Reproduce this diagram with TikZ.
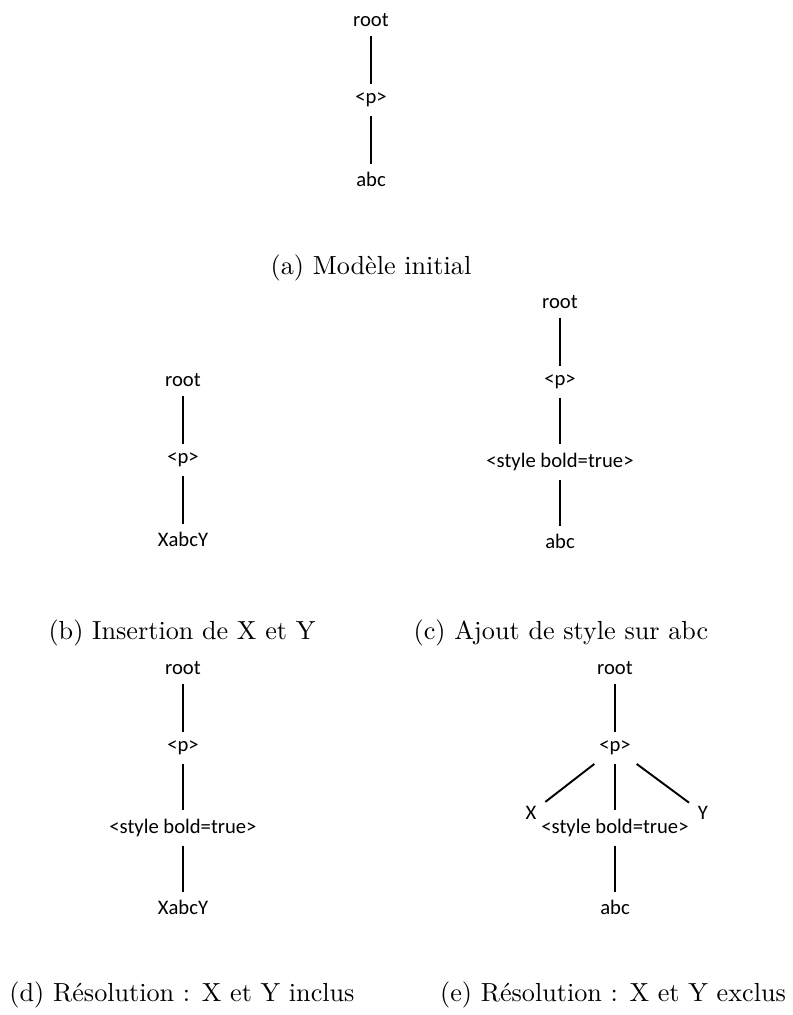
\documentclass[tikz,border=0pt]{standalone}
\usepackage{fontspec}
\newfontfamily\noeudfont{Carlito}
\usepackage{tikz}
\usetikzlibrary{positioning}

\begin{document}
\begin{tikzpicture}[x=0.4167pt,y=-0.4167pt,node distance=33.3pt,thick]
  \tikzstyle{every node}=[font=\noeudfont\fontsize{8.6pt}{10pt}\selectfont]
  \tikzstyle{legende}=[font=\rmfamily\fontsize{10.9pt}{13pt}\selectfont]
  \useasboundingbox (0,0) rectangle (792,1015);

  % (a) modele initial
  \node (aR) at (371,20) {root};
  \node (aP) [below of=aR] {<p>};
  \node (aT) [below of=aP] {abc};
  \path (aR) edge (aP);
  \path (aP) edge (aT);
  \node[legende] (capA) at (371,268) {(a) Modèle initial};

  % (b) insertion
  \node (bR) at (183,380) {root};
  \node (bP) [below of=bR] {<p>};
  \node (bT) [below of=bP] {XabcY};
  \path (bR) edge (bP);
  \path (bP) edge (bT);
  \node[legende] (capB) at (182,633) {(b) Insertion de X et Y};

  % (c) ajout de style
  \node (cR) at (560,302) {root};
  \node (cP) [below of=cR] {<p>};
  \node (cS) [below of=cP] {<style bold=true>};
  \node (cT) [below of=cS] {abc};
  \path (cR) edge (cP);
  \path (cP) edge (cS);
  \path (cS) edge (cT);
  \node[legende] (capC) at (561,633) {(c) Ajout de style sur abc};

  % (d) X et Y inclus
  \node (dR) at (183,668) {root};
  \node (dP) [below of=dR] {<p>};
  \node (dS) [below of=dP] {<style bold=true>};
  \node (dT) [below of=dS] {XabcY};
  \path (dR) edge (dP);
  \path (dP) edge (dS);
  \path (dS) edge (dT);
  \node[legende] (capD) at (182,995) {(d) Résolution : X et Y inclus};

  % (e) X et Y exclus
  \node (eR) at (615,668) {root};
  \node (eP) [below of=eR] {<p>};
  \node (eS) [below of=eP] {<style bold=true>};
  \node (eT) [below of=eS] {abc};
  \node (eX) at (531,813) {X};
  \node (eY) at (703,813) {Y};
  \path (eR) edge (eP);
  \path (eP) edge (eX);
  \path (eP) edge (eS);
  \path (eP) edge (eY);
  \path (eS) edge (eT);
  \node[legende] (capE) at (613,995) {(e) Résolution : X et Y exclus};
\end{tikzpicture}
\end{document}
